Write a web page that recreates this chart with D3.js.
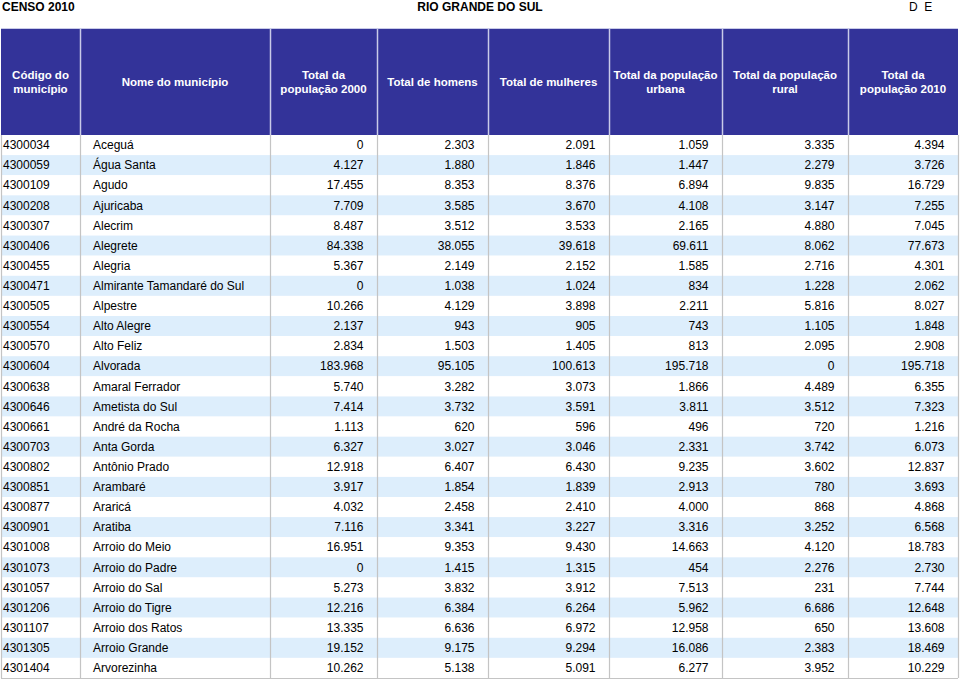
<!DOCTYPE html>
<html>
<head>
<meta charset="utf-8">
<script src="https://cdn.jsdelivr.net/npm/d3@7"></script>
<style>
  body { margin: 0; background: #fff; }
  svg { display: block; font-family: "Liberation Sans", Arial, sans-serif; }
</style>
</head>
<body>
<div id="container"></div>
<script>
// Data
const headers = [
  ["Código do", "município"],
  ["Nome do município"],
  ["Total da", "população 2000"],
  ["Total de homens"],
  ["Total de mulheres"],
  ["Total da população", "urbana"],
  ["Total da população", "rural"],
  ["Total da", "população 2010"]
];
const codes = ["4300034", "4300059", "4300109", "4300208", "4300307", "4300406", "4300455", "4300471", "4300505",
  "4300554", "4300570", "4300604", "4300638", "4300646", "4300661", "4300703", "4300802", "4300851", "4300877",
  "4300901", "4301008", "4301073", "4301057", "4301206", "4301107", "4301305", "4301404"];
const names = ["Aceguá", "Água Santa", "Agudo", "Ajuricaba", "Alecrim", "Alegrete", "Alegria",
  "Almirante Tamandaré do Sul", "Alpestre", "Alto Alegre", "Alto Feliz", "Alvorada", "Amaral Ferrador",
  "Ametista do Sul", "André da Rocha", "Anta Gorda", "Antônio Prado", "Arambaré", "Araricá", "Aratiba",
  "Arroio do Meio", "Arroio do Padre", "Arroio do Sal", "Arroio do Tigre", "Arroio dos Ratos",
  "Arroio Grande", "Arvorezinha"];
const pop2000 = [0, 4127, 17455, 7709, 8487, 84338, 5367, 0, 10266, 2137, 2834, 183968, 5740, 7414, 1113, 6327,
  12918, 3917, 4032, 7116, 16951, 0, 5273, 12216, 13335, 19152, 10262];
const homens = [2303, 1880, 8353, 3585, 3512, 38055, 2149, 1038, 4129, 943, 1503, 95105, 3282, 3732, 620, 3027,
  6407, 1854, 2458, 3341, 9353, 1415, 3832, 6384, 6636, 9175, 5138];
const mulheres = [2091, 1846, 8376, 3670, 3533, 39618, 2152, 1024, 3898, 905, 1405, 100613, 3073, 3591, 596, 3046,
  6430, 1839, 2410, 3227, 9430, 1315, 3912, 6264, 6972, 9294, 5091];
const urbana = [1059, 1447, 6894, 4108, 2165, 69611, 1585, 834, 2211, 743, 813, 195718, 1866, 3811, 496, 2331,
  9235, 2913, 4000, 3316, 14663, 454, 7513, 5962, 12958, 16086, 6277];
const rural = [3335, 2279, 9835, 3147, 4880, 8062, 2716, 1228, 5816, 1105, 2095, 0, 4489, 3512, 720, 3742,
  3602, 780, 868, 3252, 4120, 2276, 231, 6686, 650, 2383, 3952];
const pop2010 = [4394, 3726, 16729, 7255, 7045, 77673, 4301, 2062, 8027, 1848, 2908, 195718, 6355, 7323, 1216,
  6073, 12837, 3693, 4868, 6568, 18783, 2730, 7744, 12648, 13608, 18469, 10229];

const rows = codes.map((c, i) => [c, names[i], pop2000[i], homens[i], mulheres[i], urbana[i], rural[i], pop2010[i]]);

// Layout
const width = 960, height = 681;
const colEdges = [1, 80, 270, 377, 488, 609, 722, 848, 958];
const headTop = 29, headBottom = 135, bodyBottom = 678;

const ptBR = d3.formatLocale({ decimal: ",", thousands: ".", grouping: [3], currency: ["R$", ""] });
const fmt = ptBR.format(",d");

const svg = d3.select("div#container")
  .append("svg")
  .attr("width", width)
  .attr("height", height);

// Title line
svg.append("text").attr("x", 2).attr("y", 11).attr("font-size", 12).attr("font-weight", "bold").text("CENSO 2010");
svg.append("text").attr("x", 480).attr("y", 11).attr("font-size", 12).attr("font-weight", "bold")
  .attr("text-anchor", "middle").text("RIO GRANDE DO SUL");
svg.append("text").attr("x", 909).attr("y", 11).attr("font-size", 12).text("D  E")
  .style("white-space", "pre");

// Scales
const y = d3.scaleBand().domain(d3.range(rows.length)).range([headBottom, bodyBottom]);

// Header
svg.append("line").attr("x1", colEdges[0]).attr("x2", colEdges[8])
  .attr("y1", headTop - 0.5).attr("y2", headTop - 0.5).attr("stroke", "#c9cbe8");
svg.append("rect")
  .attr("x", colEdges[0]).attr("y", headTop)
  .attr("width", colEdges[8] - colEdges[0]).attr("height", headBottom - headTop)
  .attr("fill", "#333399");

const head = svg.append("g").selectAll("text").data(headers).enter().append("text")
  .attr("fill", "#fff").attr("font-size", 11.5).attr("font-weight", "bold").attr("text-anchor", "middle")
  .attr("transform", (d, i) => `translate(${(colEdges[i] + colEdges[i + 1]) / 2},${(headTop + headBottom) / 2 + 4})`);
head.selectAll("tspan").data((d) => d.map((t, k) => ({ t, k, n: d.length }))).enter().append("tspan")
  .attr("x", 0)
  .attr("y", (d) => (d.k - (d.n - 1) / 2) * 14)
  .text((d) => d.t);

// Body stripes
svg.append("g").selectAll("rect").data(rows).enter().append("rect")
  .attr("x", colEdges[0]).attr("y", (d, i) => y(i))
  .attr("width", colEdges[8] - colEdges[0]).attr("height", y.bandwidth())
  .attr("fill", (d, i) => (i % 2 === 1 ? "#ddeefc" : "#ffffff"));

// Grid
svg.append("g").selectAll("line").data(colEdges).enter().append("line")
  .attr("x1", (d) => d + 0.5).attr("x2", (d) => d + 0.5)
  .attr("y1", headBottom).attr("y2", bodyBottom)
  .attr("stroke", "#c4c4c4").attr("stroke-width", 1.2);
svg.append("g").selectAll("line").data(colEdges.slice(1, 8)).enter().append("line")
  .attr("x1", (d) => d + 0.5).attr("x2", (d) => d + 0.5)
  .attr("y1", headTop).attr("y2", headBottom)
  .attr("stroke", "#c9cbe8").attr("stroke-width", 1.5);
svg.append("line").attr("x1", colEdges[0]).attr("x2", colEdges[8])
  .attr("y1", bodyBottom + 0.5).attr("y2", bodyBottom + 0.5).attr("stroke", "#c4c4c4");

// Cells
const rowG = svg.append("g").selectAll("g").data(rows).enter().append("g")
  .attr("transform", (d, i) => `translate(0,${y(i) + y.bandwidth() / 2})`);
rowG.selectAll("text").data((d) => d).enter().append("text")
  .attr("font-size", 12).attr("fill", "#000").attr("dy", "0.35em")
  .attr("x", (d, j) => (j === 0 ? colEdges[0] + 2 : j === 1 ? colEdges[1] + 13 : colEdges[j + 1] - 13.5))
  .attr("text-anchor", (d, j) => (j < 2 ? "start" : "end"))
  .text((d, j) => (j < 2 ? d : fmt(d)));
</script>
</body>
</html>
